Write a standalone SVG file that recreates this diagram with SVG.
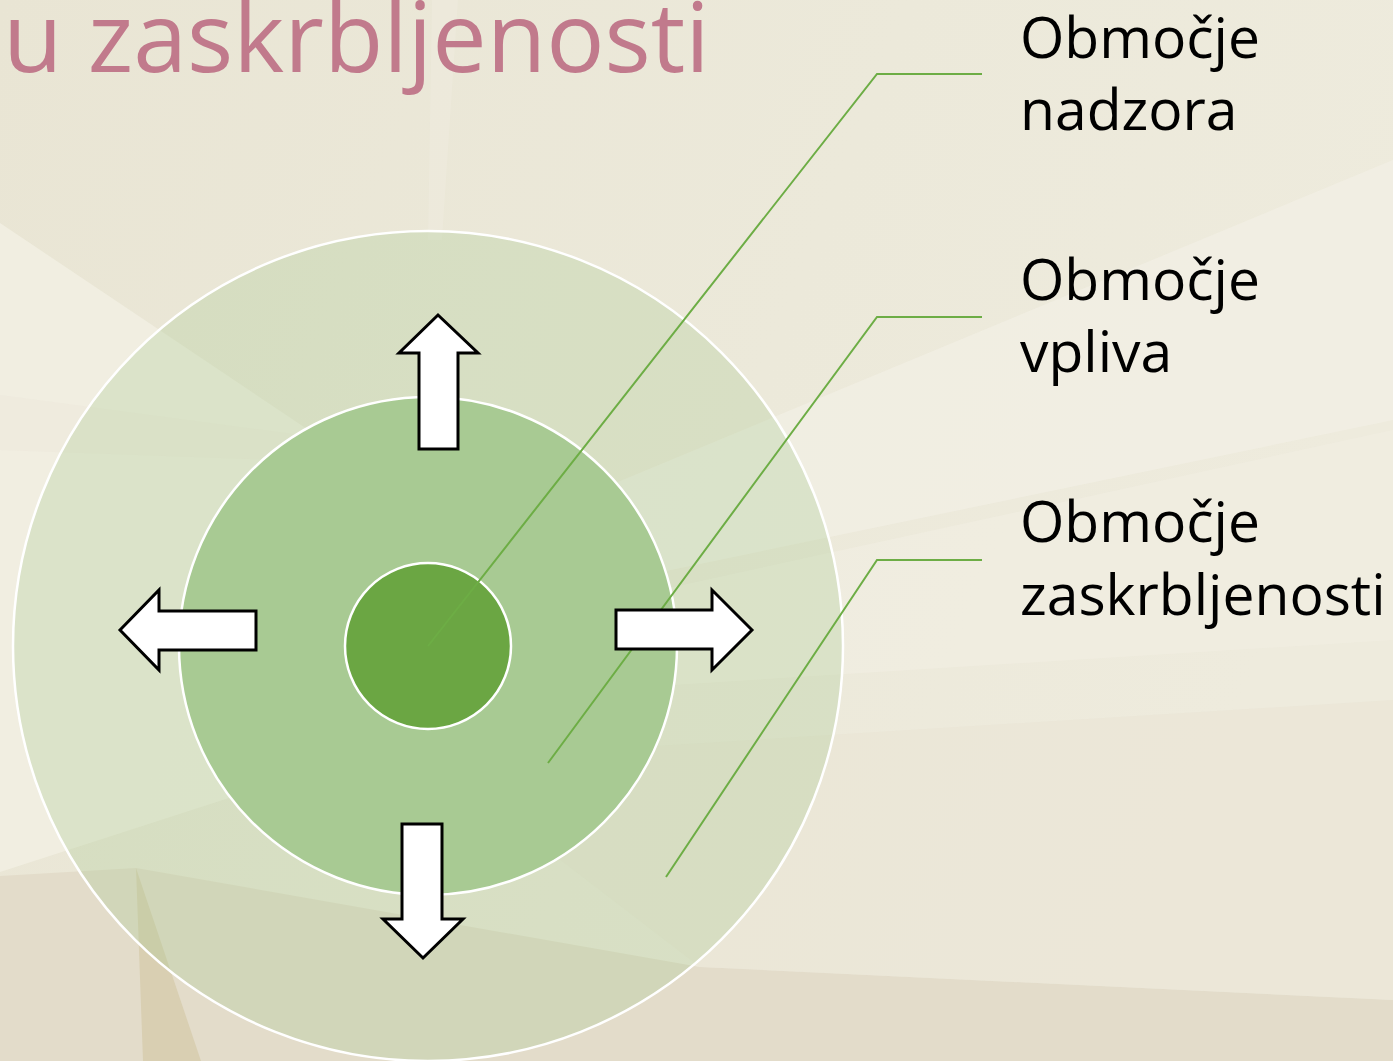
<svg xmlns="http://www.w3.org/2000/svg" width="1393" height="1061" viewBox="0 0 1393 1061">
  <defs>
    <linearGradient id="bg" x1="0" y1="0" x2="1" y2="0.3">
      <stop offset="0" stop-color="#E9E5D4"/>
      <stop offset="0.6" stop-color="#ECE9DA"/>
      <stop offset="1" stop-color="#EEEBDD"/>
    </linearGradient>
    <style>
      .label { font-family: "Open Sans", "Noto Sans", sans-serif; font-size: 57px; fill: #000000; }
      .title { font-family: "Open Sans", "Noto Sans", sans-serif; font-size: 97px; fill: #C17A8C; }
      .leader { fill: none; stroke: #6DAD45; stroke-width: 2; }
      .arrow { fill: #FFFFFF; stroke: #000000; stroke-width: 3; stroke-linejoin: miter; }
      .ring { stroke: #FFFFFF; stroke-width: 2.5; }
    </style>
  </defs>

  <!-- background -->
  <g id="background">
    <rect x="0" y="0" width="1393" height="1061" fill="url(#bg)"/>
    <polygon points="0,223 480,545 470,720 0,872" fill="#F3F0E4" opacity="0.8"/>
    <polygon points="0,395 300,435 280,460 0,450" fill="#EDE7DB" opacity="0.5"/>
    <polygon points="430,560 1393,160 1393,420 430,620" fill="#F2F0E5" opacity="0.7"/>
    <polygon points="430,640 1393,430 1393,640 430,700" fill="#F1EEE3" opacity="0.6"/>
    <polygon points="0,876 136,868 700,967 1393,1000 1393,1061 0,1061" fill="#E3DCCA"/>
    <polygon points="136,868 143,1061 201,1061" fill="#D9CFB2"/>
    <polygon points="430,760 1393,700 1393,1000 700,967" fill="#EAE4D4" opacity="0.5"/>
    <polygon points="432,0 458,0 442,240 428,240" fill="#EFECDF" opacity="0.5"/>
  </g>

  <!-- title -->
  <text class="title" x="3" y="72">u zaskrbljenosti</text>

  <!-- circles -->
  <g id="node-zaskrbljenost">
    <circle class="ring" cx="428" cy="646" r="415" fill="#A9CB93" fill-opacity="0.3"/>
  </g>
  <g id="node-vpliv">
    <circle class="ring" cx="428" cy="646" r="249" fill="#A8CA93"/>
  </g>
  <g id="node-nadzor">
    <circle class="ring" cx="428" cy="646" r="83" fill="#6BA643"/>
  </g>

  <!-- connectors -->
  <g id="connectors">
    <polyline class="leader" points="428,646 877,74 982,74"/>
    <polyline class="leader" points="548,763 877,317 982,317"/>
    <polyline class="leader" points="666,877 877,560 982,560"/>
  </g>

  <!-- arrows -->
  <g id="arrows">
    <polygon class="arrow" points="438,315 478,353 458,353 458,449 419,449 419,353 399,353"/>
    <polygon class="arrow" points="120,630 159,590 159,611 256,611 256,650 159,650 159,670"/>
    <polygon class="arrow" points="752,630 712,590 712,610 616,610 616,649 712,649 712,670"/>
    <polygon class="arrow" points="423,958 463,919 442,919 442,824 402,824 402,919 383,919"/>
  </g>

  <!-- labels -->
  <g id="label-nadzor">
    <text class="label" x="1020" y="58">Območje</text>
    <text class="label" x="1020" y="130">nadzora</text>
  </g>
  <g id="label-vpliv">
    <text class="label" x="1020" y="300">Območje</text>
    <text class="label" x="1020" y="372">vpliva</text>
  </g>
  <g id="label-zaskrbljenost">
    <text class="label" x="1020" y="542">Območje</text>
    <text class="label" x="1020" y="615">zaskrbljenosti</text>
  </g>
</svg>
